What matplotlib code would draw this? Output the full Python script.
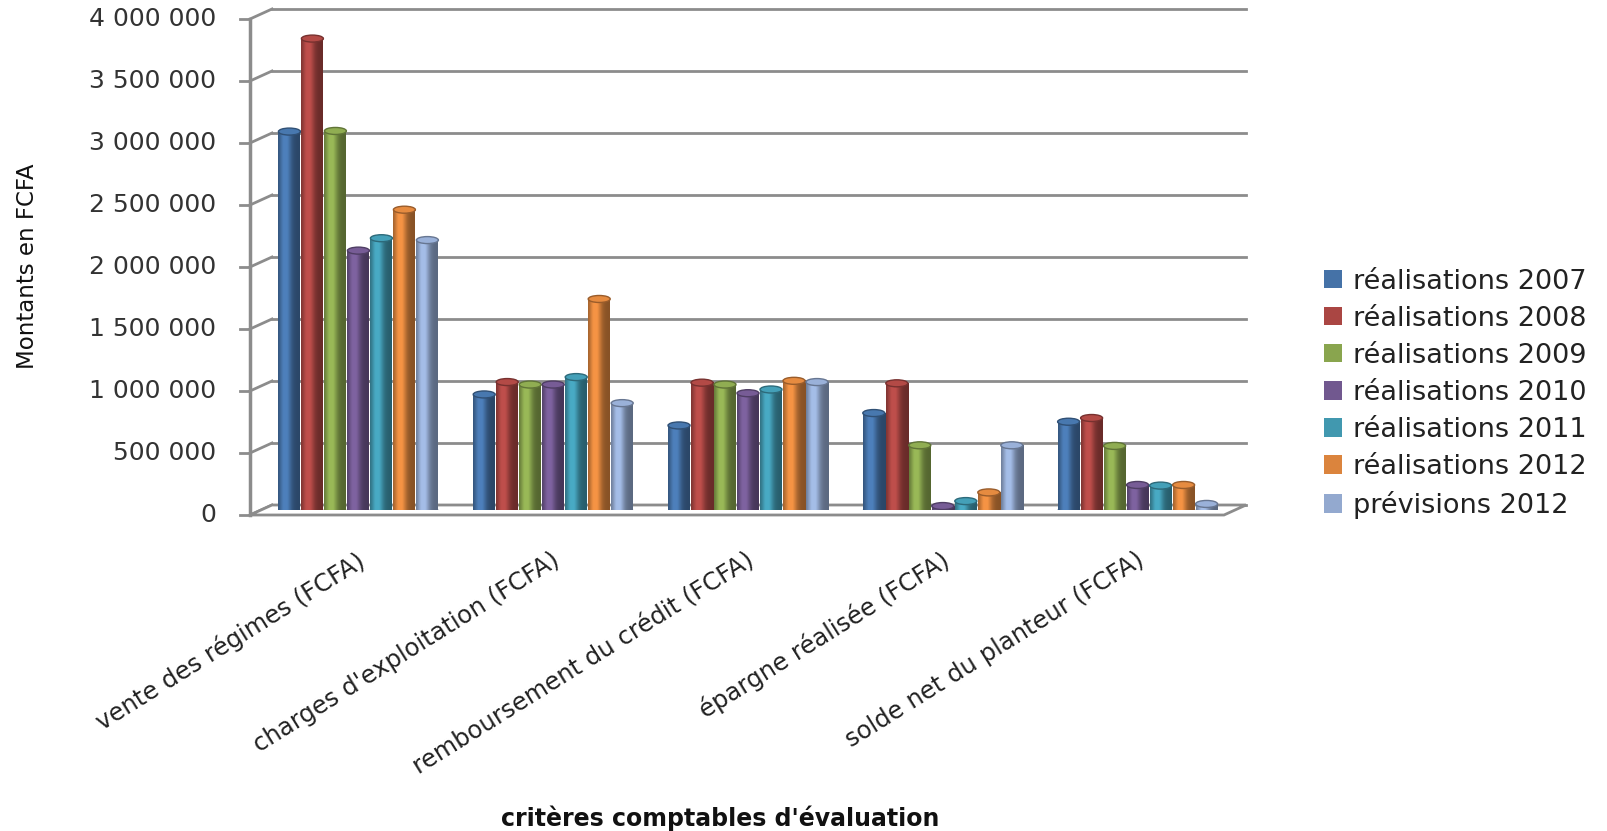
import numpy as np
import matplotlib
matplotlib.use('Agg')
import matplotlib.pyplot as plt
from matplotlib.patches import Patch, Ellipse, Polygon
from matplotlib.transforms import ScaledTranslation
from matplotlib.colors import to_rgb

# 데이터
categories = ["vente des régimes (FCFA)", "charges d'exploitation (FCFA)",
              "remboursement du crédit (FCFA)", "épargne réalisée (FCFA)",
              "solde net du planteur (FCFA)"]
series = ["réalisations 2007", "réalisations 2008", "réalisations 2009",
          "réalisations 2010", "réalisations 2011", "réalisations 2012",
          "prévisions 2012"]
r2007 = [3080000, 960000, 710000, 810000, 740000]
r2008 = [3830000, 1060000, 1055000, 1050000, 770000]
r2009 = [3085000, 1040000, 1040000, 550000, 545000]
r2010 = [2120000, 1040000, 970000, 60000, 230000]
r2011 = [2220000, 1100000, 1000000, 100000, 225000]
r2012 = [2450000, 1730000, 1070000, 170000, 230000]
p2012 = [2205000, 890000, 1060000, 550000, 77000]
values = [r2007, r2008, r2009, r2010, r2011, r2012, p2012]
yticks = [0, 500000, 1000000, 1500000, 2000000, 2500000, 3000000, 3500000, 4000000]
ytick_labels = ["0", "500 000", "1 000 000", "1 500 000", "2 000 000",
                "2 500 000", "3 000 000", "3 500 000", "4 000 000"]
colors = ['#4572A7', '#AA4643', '#89A54E', '#71588F', '#4198AF', '#DB843D', '#93A9CF']

W, H, DPI = 1607, 831, 100
fig = plt.figure(figsize=(W / DPI, H / DPI), dpi=DPI)

# 가운데 평면(막대가 서 있는 깊이)
x0, x1, ybase, ytop = 261, 1235, 510, 14
ax = fig.add_axes([x0 / W, (H - ybase) / H, (x1 - x0) / W, (ybase - ytop) / H])
ax.set_xlim(0, 5)
ax.set_ylim(0, 4000000)
ax.axis('off')

px_x = (x1 - x0) / 5.0
px_y = (ybase - ytop) / 4000000.0

def shifted(dx, dy):
    return ax.transData + ScaledTranslation(dx / DPI, dy / DPI, fig.dpi_scale_trans)

back = shifted(11, 5)
front = shifted(-11, -5)
gcol = '#8c8c8c'

# 뒤쪽 벽 그리드
for v in yticks:
    ax.plot([0, 5], [v, v], color=gcol, lw=2, transform=back, clip_on=False, zorder=1)
    # 옆벽 사선
    ax.plot([-22 / px_x, 0], [v - 10 / px_y, v], color=gcol, lw=2,
            transform=back, clip_on=False, zorder=1)

# 바닥
floor = Polygon([[0, 0], [5, 0], [5 + 22 / px_x, 10 / px_y], [22 / px_x, 10 / px_y]],
                closed=True, facecolor='white', edgecolor=gcol, lw=2,
                transform=front, clip_on=False, zorder=1.5)
ax.add_patch(floor)

# 앞쪽 축선 + 눈금
ax.plot([0, 0], [0, 4000000], color=gcol, lw=2.5, transform=front, clip_on=False, zorder=6)
for v, lab in zip(yticks, ytick_labels):
    ax.plot([-10 / px_x, 0], [v, v], color=gcol, lw=2, transform=front, clip_on=False, zorder=6)
    ax.text(-34 / px_x, v, lab, transform=front, ha='right', va='center',
            fontsize=18, color='#333333', clip_on=False)

# 막대 (원기둥 느낌)
step = 23 / px_x
bw = 22 / px_x
cap_h = 7 / px_y
prof = np.linspace(0, 1, 40)
shade = 0.62 + 0.55 * np.exp(-((prof - 0.33) / 0.28) ** 2)
shade = np.clip(shade, 0, 1.12)
for j, (vals, c) in enumerate(zip(values, colors)):
    base = np.array(to_rgb(c))
    grad = np.clip(base[None, :] * shade[:, None], 0, 1)[None, :, :]
    xs = np.arange(5) + 0.5 + (j - 3) * step
    bars = ax.bar(xs, vals, width=bw, color=c, zorder=3 + j * 0.01)
    for rect in bars:
        bx, bh = rect.get_x(), rect.get_height()
        rect.set_visible(False)
        ax.imshow(grad, extent=(bx, bx + bw, 0, bh - cap_h / 2), aspect='auto',
                  interpolation='bilinear', zorder=3 + j * 0.01)
        ax.add_patch(Ellipse((bx + bw / 2, bh - cap_h / 2), bw, cap_h,
                             facecolor=np.clip(base * 1.05, 0, 1),
                             edgecolor=np.clip(base * 0.7, 0, 1), lw=1,
                             zorder=3.005 + j * 0.01))
        ax.add_patch(Ellipse((bx + bw / 2, 0), bw, cap_h,
                             facecolor=np.clip(base * 0.8, 0, 1), edgecolor='none',
                             zorder=2.99 + j * 0.01))
ax.set_xlim(0, 5)
ax.set_ylim(0, 4000000)

# 범주 라벨
for i, cat in enumerate(categories):
    ax.text(i + 0.5 - 2 / px_x, -38 / px_y, cat, rotation=32, rotation_mode='anchor',
            ha='right', va='top', fontsize=17.5, color='#222222', clip_on=False)

# 축 제목
fig.text(27 / W, 1 - 266 / H, 'Montants en FCFA', rotation=90, ha='center', va='center',
         fontsize=16.5, fontweight='medium', color='#111111')
fig.text(720 / W, 1 - 818 / H, "critères comptables d'évaluation", ha='center', va='center',
         fontsize=17, fontweight='bold', color='#111111')

# 범례
handles = [Patch(facecolor=c, edgecolor='none') for c in colors]
fig.legend(handles, series, loc='upper left', bbox_to_anchor=(1310 / W, 1 - 255 / H),
           frameon=False, fontsize=19.5, handlelength=0.67, handleheight=0.67,
           handletextpad=0.4, labelspacing=0.41, borderpad=0, labelcolor='#222222')

fig.savefig('out.png', dpi=DPI, facecolor='white')
